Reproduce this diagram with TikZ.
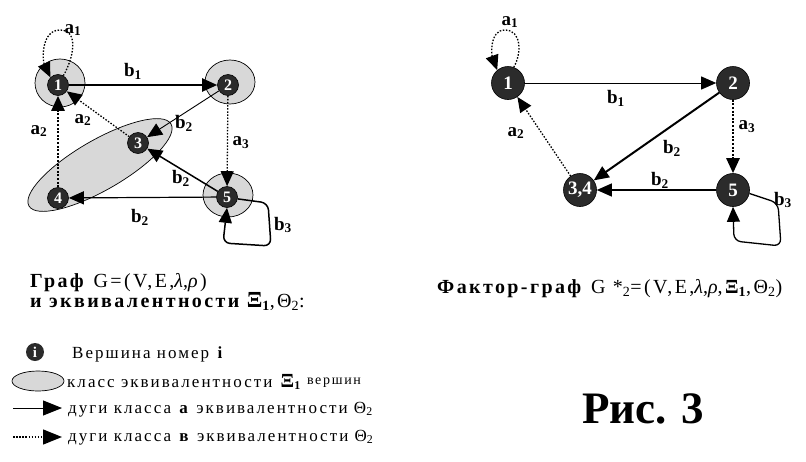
\documentclass[tikz,border=0pt]{standalone}
\usepackage{fontspec}
\setmainfont{Liberation Serif}[LetterSpace=12]
\newfontfamily\plainf{Liberation Serif}
\usetikzlibrary{arrows.meta,shapes.geometric}
\definecolor{vdark}{HTML}{2B2B2B}
\definecolor{halogray}{HTML}{D8D8D8}
\newcommand{\fsz}[1]{\fontsize{#1}{#1}\selectfont}
\begin{document}
\begin{tikzpicture}[x=1pt,y=-1pt,
  vtx/.style={circle,fill=vdark,draw=black,line width=0.6pt,text=white,
    font=\plainf\bfseries\fsz{16},inner sep=0pt,minimum size=21pt},
  bvtx/.style={vtx,minimum size=33pt,font=\plainf\bfseries\fsz{19}},
  halo/.style={ellipse,draw=black,line width=0.7pt,fill=halogray,inner sep=0pt},
  tip/.style={-{Triangle[length=15pt,width=13pt]}},
  sol/.style={tip,line width=1pt},
  solthick/.style={tip,line width=2pt},
  dotl/.style={tip,line width=1.3pt,dash pattern=on 1.5pt off 1.6pt},
  dotthick/.style={tip,line width=2.6pt,dash pattern=on 2pt off 1.6pt},
  elab/.style={font=\plainf\bfseries\fsz{19},inner sep=0pt},
  txt/.style={anchor=base west,inner sep=0pt},
]
\useasboundingbox (0,0) rectangle (806,461);

% ---------- left graph ----------
\node[halo,minimum width=50pt,minimum height=48pt] (h1) at (60,83) {};
\node[halo,minimum width=50pt,minimum height=44pt] (h2) at (230,82) {};
\node[halo,minimum width=50pt,minimum height=44pt] (h5) at (228,195) {};
\node[halo,rotate=30,minimum width=164pt,minimum height=50pt] (h34) at (100,165) {};

\node[vtx] (n1) at (58,85) {1};
\node[vtx] (n2) at (228,85) {2};
\node[vtx] (n3) at (138,143) {3};
\node[vtx] (n4) at (58,198) {4};
\node[vtx] (n5) at (227,197) {5};

\draw[solthick] (n1) -- (n2);
\draw[sol,line width=0.9pt] (n2) -- (n3);
\draw[dotl] (n2) -- (n5);
\draw[sol,line width=1.5pt] (n5) -- (n3);
\draw[sol,line width=1.2pt] (n5) -- (n4);
\draw[dotl] (n3) -- (n1);
\draw[dotthick] (n4) -- (n1);
\draw[dotl] (n1.60) to[out=60,in=0,looseness=1.1] (60,30) to[out=180,in=115] (n1.135);
\draw[sol,line width=1.5pt,rounded corners=7pt] (n5.-10) -- (268,203) -- (271,246) -- (223,243) -- (n5.south);

\node[elab] (la1) at (73,30) {a\textsubscript{1}};
\node[elab] (lb1) at (133,71) {b\textsubscript{1}};
\node[elab] (la2a) at (83,120) {a\textsubscript{2}};
\node[elab] (la2b) at (39,131) {a\textsubscript{2}};
\node[elab] (lb2a) at (184,123) {b\textsubscript{2}};
\node[elab] (la3) at (241,143) {a\textsubscript{3}};
\node[elab] (lb2b) at (181,178) {b\textsubscript{2}};
\node[elab] (lb2c) at (140,217) {b\textsubscript{2}};
\node[elab] (lb3) at (283,225) {b\textsubscript{3}};

% ---------- right graph ----------
\node[bvtx] (m1) at (508,83) {1};
\node[bvtx] (m2) at (733,83) {2};
\node[bvtx] (m34) at (580,190) {3,4};
\node[bvtx] (m5) at (733,190) {5};

\draw[sol,line width=0.9pt] (m1) -- (m2);
\draw[solthick] (m2) -- (m34);
\draw[dotthick] (m2) -- (m5);
\draw[sol,line width=1.1pt] (m5) -- (m34);
\draw[dotl] (m34) -- (m1);
\draw[dotl] (m1.70) to[out=60,in=0,looseness=1.1] (505,30) to[out=180,in=110] (m1.130);
\draw[sol,line width=1.3pt,rounded corners=7pt] (m5.-12) -- (778,203) -- (781,246) -- (734,241) -- (m5.south);

\node[elab] (ra1) at (510,22) {a\textsubscript{1}};
\node[elab] (rb1) at (616,98) {b\textsubscript{1}};
\node[elab] (ra2) at (516,133) {a\textsubscript{2}};
\node[elab] (rb2a) at (672,148) {b\textsubscript{2}};
\node[elab] (ra3) at (747,127) {a\textsubscript{3}};
\node[elab] (rb2b) at (660,180) {b\textsubscript{2}};
\node[elab] (rb3) at (783,200) {b\textsubscript{3}};

% ---------- captions ----------
\node[txt,font=\fsz{20}] (t1) at (30,287)
  {\textbf{Граф} G=(V,E,\textit{λ},\textit{ρ})};
\node[txt,font=\fsz{20}] (t2) at (30,307)
  {\textbf{и эквивалентности {\fsz{23}Ξ}\textsubscript{1}},Θ\textsubscript{2}:};
\node[txt,font=\fsz{20}] (t3) at (437,293)
  {\textbf{Фактор-граф} G *\textsubscript{2}=(V,E,\textit{λ},\textit{ρ},\textbf{Ξ\textsubscript{1}},Θ\textsubscript{2})};
\node[txt,font=\plainf\bfseries\fsz{45}] (fig) at (582,423) {Рис. 3};

% ---------- legend ----------
\node[circle,fill=vdark,text=white,minimum size=18pt,inner sep=0pt,
  font=\plainf\bfseries\fsz{15}] (li) at (35,352) {i};
\node[txt,font=\fsz{17}] (lt1) at (72,358) {Вершина номер \textbf{i}};
\node[halo,minimum width=52pt,minimum height=20pt] (le) at (38,381) {};
\node[txt,font=\fsz{17}] (lt2) at (67,387)
  {класс эквивалентности \textbf{{\fsz{20}Ξ}\textsubscript{1}} \raisebox{3pt}{\fsz{14}вершин}};
\coordinate (s1) at (13,408);
\coordinate (e1) at (62,408);
\draw[sol,-{Triangle[length=19pt,width=15pt]}] (s1) -- (e1);
\node[txt,font=\fsz{17}] (lt3) at (68,413)
  {дуги класса \textbf{а} эквивалентности Θ\textsubscript{2}};
\coordinate (s2) at (13,437);
\coordinate (e2) at (62,437);
\draw[dotl,-{Triangle[length=19pt,width=15pt]}] (s2) -- (e2);
\node[txt,font=\fsz{17}] (lt4) at (68,441)
  {дуги класса \textbf{в} эквивалентности Θ\textsubscript{2}};
\end{tikzpicture}
\end{document}
